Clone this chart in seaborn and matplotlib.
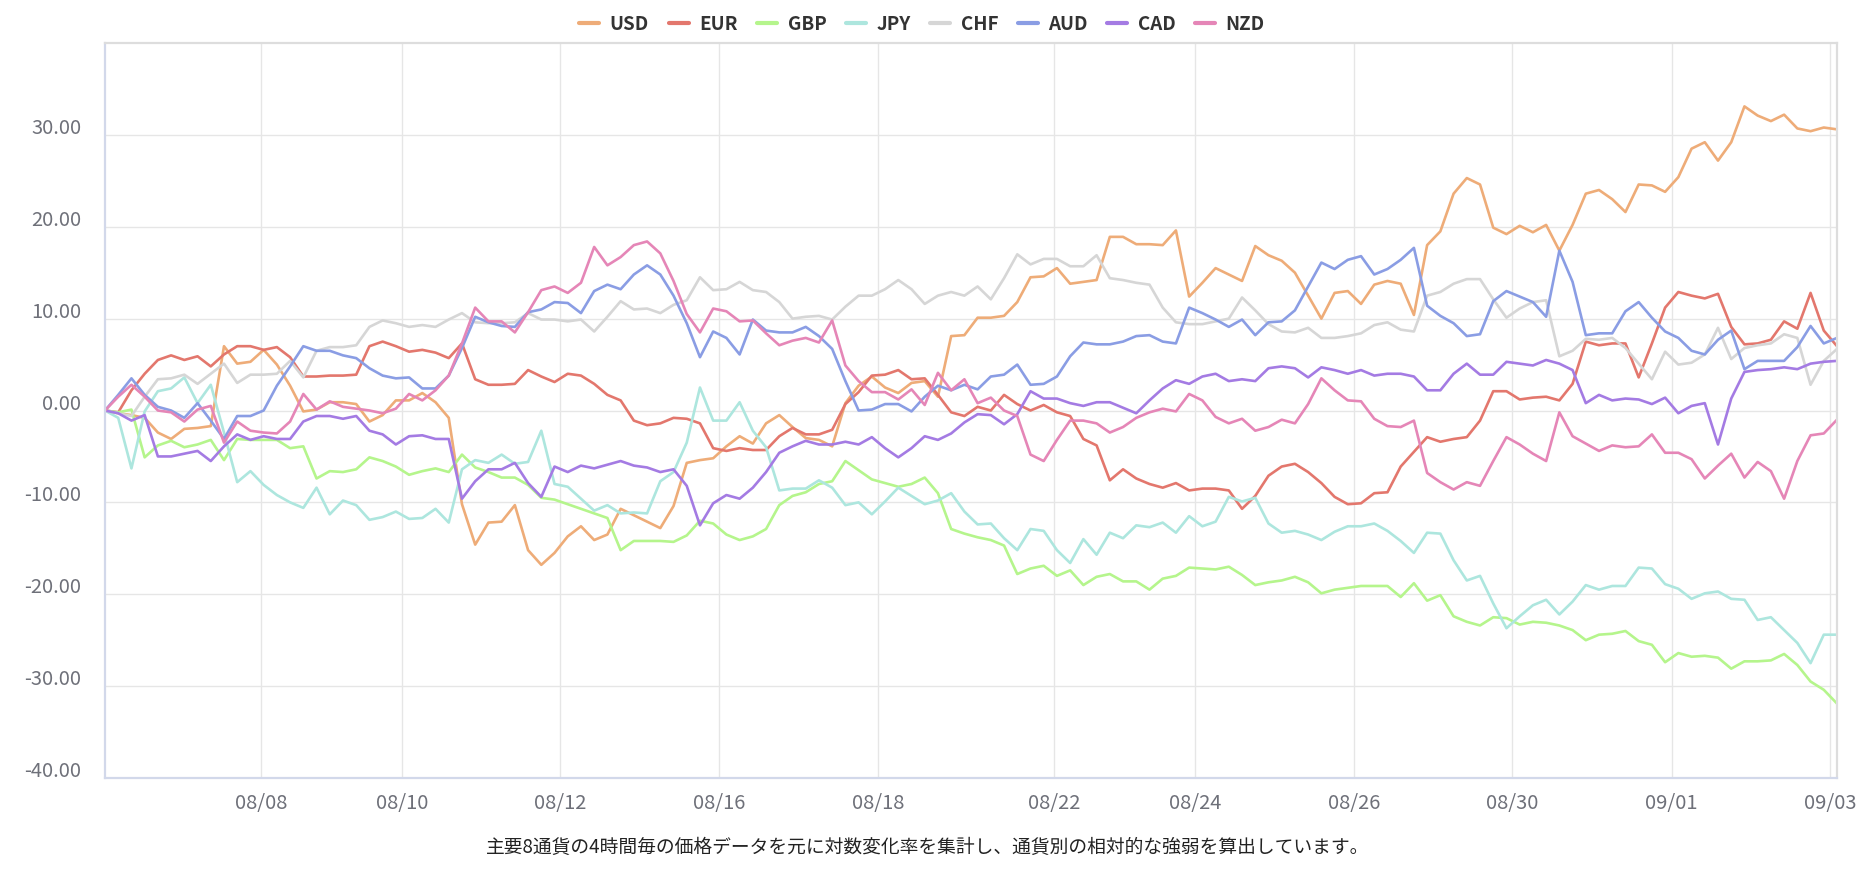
import numpy as np
import pandas as pd
import matplotlib
matplotlib.use("Agg")
import matplotlib.pyplot as plt
import matplotlib.transforms as mtransforms
from matplotlib.lines import Line2D
import seaborn as sns

# currencies and line colours
currencies = ["USD", "EUR", "GBP", "JPY", "CHF", "AUD", "CAD", "NZD"]
colors = ["#eeac78", "#e3776d", "#b5f58c", "#ade6de", "#d6d6d6", "#8a9de4", "#a47be3", "#e586b7"]

# relative strength per 4h step
usd = [0, -0.3, -0.5, -0.8, -2.4, -3.1, -2.0, -1.9, -1.7, 7.0, 5.1, 5.3, 6.6, 5.0, 2.7, -0.1, 0.1,
       0.9, 0.9, 0.7, -1.2, -0.5, 1.1, 1.1, 1.9, 0.9, -0.8, -10.2, -14.6, -12.2, -12.1, -10.3, -15.2,
       -16.8, -15.5, -13.7, -12.6, -14.1, -13.5, -10.7, -11.4, -12.1, -12.8, -10.4, -5.7, -5.4, -5.2, -3.9, -2.8,
       -3.6, -1.4, -0.5, -1.8, -3.0, -3.2, -3.9, 0.8, 2.7, 3.7, 2.5, 1.9, 3.0, 3.2, 1.5, 8.1,
       8.2, 10.1, 10.1, 10.3, 11.8, 14.5, 14.6, 15.5, 13.8, 14.0, 14.2, 18.9, 18.9, 18.1, 18.1, 18.0, 19.6,
       12.4, 13.9, 15.5, 14.8, 14.1, 17.9, 16.9, 16.3, 15.0, 12.5, 10.0, 12.8, 13.0, 11.6, 13.7, 14.1,
       13.8, 10.4, 18.0, 19.5, 23.6, 25.3, 24.6, 19.9, 19.2, 20.1, 19.4, 20.2, 17.4, 20.2, 23.6, 24.0,
       23.0, 21.6, 24.6, 24.5, 23.8, 25.4, 28.5, 29.2, 27.2, 29.2, 33.1, 32.1, 31.5, 32.2, 30.7, 30.4, 30.8, 30.6]
eur = [0, -0.2, 2.2, 4.0, 5.5, 6.0, 5.5, 5.9, 4.8, 6.1, 7.0, 7.0, 6.6, 6.9, 5.8, 3.7, 3.7,
       3.8, 3.8, 3.9, 7.0, 7.5, 7.0, 6.4, 6.6, 6.3, 5.7, 7.3, 3.4, 2.8, 2.8, 2.9, 4.4,
       3.7, 3.1, 4.0, 3.8, 2.9, 1.7, 1.1, -1.1, -1.6, -1.4, -0.8, -0.9, -1.4, -4.1, -4.4, -4.1,
       -4.3, -4.3, -2.8, -1.9, -2.6, -2.6, -2.1, 0.7, 2.0, 3.8, 3.9, 4.4, 3.4, 3.5, 1.7, -0.2,
       -0.6, 0.4, 0.0, 1.7, 0.7, 0.0, 0.6, -0.2, -0.6, -3.1, -3.8, -7.6, -6.4, -7.4, -8.0, -8.4, -7.9,
       -8.7, -8.5, -8.5, -8.7, -10.7, -9.3, -7.1, -6.1, -5.8, -6.7, -7.9, -9.4, -10.2, -10.1, -9.0, -8.9,
       -6.1, -4.5, -2.9, -3.4, -3.1, -2.9, -1.1, 2.1, 2.1, 1.2, 1.4, 1.5, 1.1, 2.9, 7.5, 7.1,
       7.3, 7.3, 3.6, 7.3, 11.2, 12.9, 12.5, 12.2, 12.7, 9.1, 7.2, 7.3, 7.7, 9.7, 8.9, 12.8, 8.7, 7.0]
gbp = [0, -0.2, 0.1, -5.1, -3.8, -3.3, -4.0, -3.7, -3.2, -5.4, -3.1, -3.2, -3.2, -3.2, -4.1, -3.9, -7.4,
       -6.6, -6.7, -6.4, -5.1, -5.5, -6.1, -7.0, -6.6, -6.3, -6.7, -4.8, -6.2, -6.7, -7.3, -7.3, -8.1,
       -9.5, -9.7, -10.2, -10.7, -11.2, -11.7, -15.2, -14.2, -14.2, -14.2, -14.3, -13.6, -12.0, -12.3, -13.5, -14.1,
       -13.7, -12.9, -10.3, -9.3, -8.9, -8.0, -7.7, -5.5, -6.5, -7.5, -7.9, -8.3, -8.0, -7.3, -9.0, -12.9,
       -13.4, -13.8, -14.1, -14.7, -17.8, -17.2, -16.9, -18.0, -17.4, -19.0, -18.1, -17.8, -18.6, -18.6, -19.5, -18.3, -18.0,
       -17.1, -17.2, -17.3, -17.0, -17.9, -19.0, -18.7, -18.5, -18.1, -18.7, -19.9, -19.5, -19.3, -19.1, -19.1, -19.1,
       -20.3, -18.8, -20.7, -20.1, -22.4, -23.0, -23.4, -22.5, -22.6, -23.3, -23.0, -23.1, -23.4, -23.9, -25.0, -24.4,
       -24.3, -24.0, -25.1, -25.5, -27.4, -26.4, -26.8, -26.7, -26.9, -28.1, -27.3, -27.3, -27.2, -26.5, -27.7, -29.5, -30.4, -31.9]
jpy = [0, -0.8, -6.3, -0.1, 2.1, 2.4, 3.6, 0.8, 2.8, -2.4, -7.8, -6.6, -8.1, -9.2, -10.0, -10.6, -8.4,
       -11.3, -9.8, -10.3, -11.9, -11.6, -11.0, -11.8, -11.7, -10.7, -12.2, -6.4, -5.4, -5.7, -4.8, -5.8, -5.6,
       -2.2, -8.0, -8.3, -9.6, -10.9, -10.3, -11.2, -11.1, -11.2, -7.7, -6.7, -3.5, 2.5, -1.1, -1.1, 0.9,
       -2.2, -4.0, -8.7, -8.5, -8.5, -7.6, -8.4, -10.3, -10.0, -11.3, -9.9, -8.4, -9.3, -10.2, -9.8, -9.0,
       -11.0, -12.4, -12.3, -13.9, -15.2, -12.9, -13.1, -15.2, -16.6, -14.0, -15.7, -13.3, -13.9, -12.5, -12.7, -12.2, -13.3,
       -11.5, -12.6, -12.1, -9.4, -9.9, -9.5, -12.3, -13.3, -13.1, -13.5, -14.1, -13.2, -12.6, -12.6, -12.3, -13.1,
       -14.2, -15.5, -13.3, -13.4, -16.3, -18.5, -18.0, -21.0, -23.7, -22.4, -21.2, -20.6, -22.2, -20.8, -19.0, -19.5,
       -19.1, -19.1, -17.1, -17.2, -18.9, -19.4, -20.5, -19.9, -19.7, -20.5, -20.6, -22.8, -22.5, -23.9, -25.3, -27.5, -24.4, -24.4]
chf = [0, -0.3, -0.6, 1.5, 3.4, 3.5, 3.9, 2.9, 4.0, 5.1, 3.0, 3.9, 3.9, 4.0, 5.4, 3.6, 6.5,
       6.9, 6.9, 7.1, 9.1, 9.8, 9.5, 9.1, 9.3, 9.1, 9.9, 10.6, 9.6, 9.5, 9.5, 9.6, 10.6,
       9.9, 9.9, 9.7, 9.9, 8.6, 10.2, 11.9, 11.0, 11.1, 10.6, 11.5, 12.0, 14.5, 13.1, 13.2, 14.0,
       13.1, 12.9, 11.8, 10.0, 10.2, 10.3, 9.9, 11.3, 12.5, 12.5, 13.2, 14.2, 13.2, 11.6, 12.5, 12.9,
       12.5, 13.5, 12.1, 14.4, 17.0, 15.9, 16.5, 16.5, 15.7, 15.7, 16.9, 14.4, 14.2, 13.9, 13.7, 11.2, 9.6,
       9.4, 9.4, 9.7, 10.0, 12.3, 10.9, 9.4, 8.6, 8.5, 9.0, 7.9, 7.9, 8.1, 8.4, 9.3, 9.6,
       8.8, 8.6, 12.5, 12.9, 13.8, 14.3, 14.3, 12.1, 10.1, 11.1, 11.8, 12.0, 5.9, 6.5, 7.8, 7.7,
       7.9, 6.8, 5.1, 3.4, 6.4, 5.0, 5.2, 6.1, 9.0, 5.6, 6.8, 7.1, 7.3, 8.3, 7.9, 2.8, 5.4, 6.7]
aud = [0, 1.7, 3.5, 1.7, 0.4, 0.0, -0.8, 0.8, -1.1, -3.1, -0.6, -0.6, 0.0, 2.7, 4.8, 7.0, 6.5,
       6.5, 6.0, 5.7, 4.6, 3.8, 3.5, 3.6, 2.4, 2.4, 3.8, 6.8, 10.2, 9.6, 9.2, 9.1, 10.7,
       11.0, 11.8, 11.7, 10.6, 13.0, 13.7, 13.2, 14.8, 15.8, 14.8, 12.5, 9.5, 5.8, 8.6, 7.9, 6.1,
       9.9, 8.7, 8.5, 8.5, 9.1, 8.1, 6.7, 3.2, 0.0, 0.1, 0.7, 0.7, -0.1, 1.5, 2.7, 2.2,
       2.8, 2.3, 3.7, 3.9, 5.0, 2.8, 2.9, 3.7, 5.9, 7.4, 7.2, 7.2, 7.5, 8.1, 8.2, 7.5, 7.3,
       11.2, 10.6, 9.9, 9.1, 9.9, 8.2, 9.6, 9.7, 10.9, 13.5, 16.1, 15.4, 16.4, 16.8, 14.8, 15.4,
       16.4, 17.7, 11.4, 10.3, 9.5, 8.1, 8.3, 11.9, 13.0, 12.4, 11.8, 10.2, 17.4, 14.0, 8.2, 8.4,
       8.4, 10.8, 11.8, 10.1, 8.6, 7.9, 6.5, 6.1, 7.7, 8.7, 4.5, 5.4, 5.4, 5.4, 6.9, 9.2, 7.3, 7.9]
cad = [0, -0.3, -1.1, -0.5, -5.0, -5.0, -4.7, -4.4, -5.5, -3.9, -2.6, -3.2, -2.8, -3.1, -3.1, -1.2, -0.6,
       -0.6, -0.9, -0.6, -2.2, -2.6, -3.7, -2.8, -2.7, -3.1, -3.1, -9.6, -7.7, -6.4, -6.4, -5.7, -7.9,
       -9.4, -6.1, -6.7, -6.0, -6.3, -5.9, -5.5, -6.0, -6.2, -6.7, -6.4, -8.2, -12.5, -10.1, -9.2, -9.6,
       -8.4, -6.7, -4.6, -3.9, -3.3, -3.7, -3.7, -3.4, -3.7, -2.9, -4.1, -5.1, -4.1, -2.8, -3.2, -2.5,
       -1.3, -0.4, -0.5, -1.5, -0.4, 2.1, 1.3, 1.3, 0.8, 0.5, 0.9, 0.9, 0.3, -0.3, 1.1, 2.4, 3.3,
       2.9, 3.7, 4.0, 3.2, 3.4, 3.2, 4.6, 4.8, 4.6, 3.6, 4.7, 4.4, 4.0, 4.4, 3.8, 4.0,
       4.0, 3.7, 2.2, 2.2, 4.0, 5.1, 3.9, 3.9, 5.3, 5.1, 4.9, 5.5, 5.1, 4.4, 0.8, 1.7,
       1.1, 1.3, 1.2, 0.7, 1.4, -0.3, 0.5, 0.8, -3.7, 1.3, 4.2, 4.4, 4.5, 4.7, 4.5, 5.1, 5.3, 5.4]
nzd = [0, 1.5, 2.8, 1.5, 0.0, -0.2, -1.2, 0.1, 0.5, -3.5, -1.2, -2.2, -2.4, -2.5, -1.2, 1.8, 0.1,
       1.0, 0.4, 0.2, 0.0, -0.3, 0.2, 1.8, 1.1, 2.2, 3.8, 7.3, 11.2, 9.7, 9.7, 8.5, 10.7,
       13.1, 13.5, 12.8, 13.9, 17.8, 15.8, 16.7, 18.0, 18.4, 17.1, 14.1, 10.5, 8.5, 11.1, 10.8, 9.7,
       9.8, 8.4, 7.1, 7.6, 7.9, 7.4, 9.8, 4.9, 3.2, 2.0, 2.0, 1.2, 2.3, 0.6, 4.1, 2.2,
       3.4, 0.8, 1.4, 0.0, -0.6, -4.8, -5.5, -3.2, -1.1, -1.1, -1.4, -2.4, -1.8, -0.8, -0.2, 0.2, -0.1,
       1.8, 1.1, -0.7, -1.4, -0.9, -2.2, -1.8, -1.0, -1.4, 0.7, 3.5, 2.2, 1.1, 1.0, -0.9, -1.7,
       -1.8, -1.1, -6.8, -7.8, -8.6, -7.8, -8.2, -5.5, -2.9, -3.7, -4.7, -5.5, -0.2, -2.8, -3.6, -4.4,
       -3.8, -4.0, -3.9, -2.6, -4.6, -4.6, -5.3, -7.4, -6.0, -4.7, -7.3, -5.6, -6.6, -9.6, -5.5, -2.7, -2.5, -1.0]

# date labels on the category axis (index of the 4h step)
tick_labels = ["08/08", "08/10", "08/12", "08/16", "08/18", "08/22", "08/24", "08/26", "08/30", "09/01", "09/03"]
tick_pos = [11.8, 22.45, 34.45, 46.45, 58.5, 71.8, 82.45, 94.45, 106.45, 118.5, 130.5]
y_ticks = [-40, -30, -20, -10, 0, 10, 20, 30]

caption = "主要8通貨の4時間毎の価格データを元に対数変化率を集計し、通貨別の相対的な強弱を算出しています。"

sns.set_style("white")
plt.rcParams["font.family"] = ["Noto Sans CJK JP", "DejaVu Sans"]

df = pd.DataFrame(dict(zip(currencies, [usd, eur, gbp, jpy, chf, aud, cad, nzd])))
df["step"] = np.arange(len(df))
long_df = df.melt(id_vars="step", var_name="currency", value_name="strength")
palette = dict(zip(currencies, colors))

fig = plt.figure(figsize=(18.6, 8.76), dpi=100)
ax = fig.add_axes([105 / 1860, 1 - 778 / 876, (1837 - 105) / 1860, (778 - 43) / 876])

sns.lineplot(data=long_df, x="step", y="strength", hue="currency", hue_order=currencies,
             palette=palette, linewidth=1.9, legend=False, estimator=None, ax=ax)

ax.set_xlim(0, len(df) - 1)
ax.set_ylim(-40, 40)
ax.set_xticks(tick_pos)
ax.set_xticklabels(tick_labels)
ax.set_yticks(y_ticks)
ax.set_yticklabels([f"{v:.2f}" for v in y_ticks])
ax.set_xlabel("")
ax.set_ylabel("")

ax.grid(True, color="#e6e6e6", linewidth=1.0)
ax.set_axisbelow(True)
for side in ["left", "bottom"]:
    ax.spines[side].set_color("#d2d8ea")
    ax.spines[side].set_linewidth(1.6)
for side in ["top", "right"]:
    ax.spines[side].set_color("#dddddd")
    ax.spines[side].set_linewidth(1.6)

ax.tick_params(axis="x", length=6, width=1, color="#d2d8ea", pad=5, labelsize=14.5, labelcolor="#6e7079")
ax.tick_params(axis="y", length=0, pad=17, labelsize=14.5, labelcolor="#6e7079")

# y labels sit a little above their grid lines
offset = mtransforms.ScaledTranslation(0, 9 / 100, fig.dpi_scale_trans)
for lab in ax.get_yticklabels():
    lab.set_transform(lab.get_transform() + offset)

handles = [Line2D([0], [0], color=c, linewidth=3) for c in colors]
leg = fig.legend(handles, currencies, loc="center", bbox_to_anchor=(922 / 1860, 1 - 24 / 876),
                 ncol=8, frameon=False, handlelength=1.07, handletextpad=0.55, columnspacing=1.05,
                 prop={"size": 13.5, "weight": "bold"})
for t in leg.get_texts():
    t.set_color("#333333")

fig.text(928 / 1860, 1 - 847 / 876, caption, ha="center", va="center", fontsize=13.5, color="#222222")

fig.savefig("out.png", dpi=100)
